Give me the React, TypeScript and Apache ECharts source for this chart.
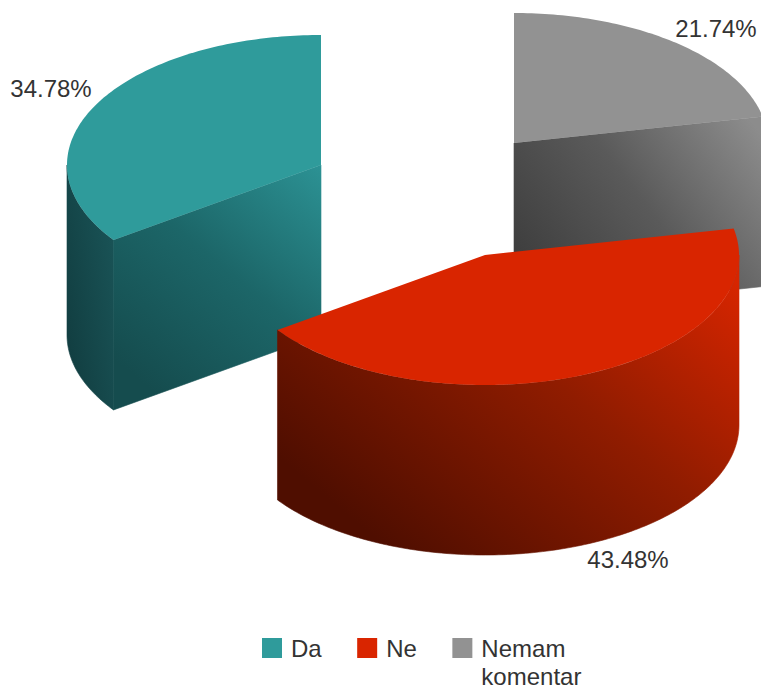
import React, { useEffect, useRef } from "react";
import * as echarts from "echarts";

const categories = ["Da", "Ne", "Nemam komentar"];
const legendLabels = ["Da", "Ne", "\nNemam\nkomentar"];
const values = [8, 10, 5];

const topColors = ["#2f9b9b", "#d92500", "#929292"];
const centers = [[321, 165], [485, 255], [514, 143]];
const labelCenters = [[51, 88], [628, 559], [716, 28]];
const drawOrder = [2, 3, 1];
const sideStops = [
  [["#2c9294", 0], ["#1c6668", 0.5], ["#154c4e", 1]],
  [["#d42500", 0], ["#8a1a00", 0.5], ["#4e0e00", 1]],
  [["#8c8c8c", 0], ["#5a5a5a", 0.5], ["#3e3e3e", 1]],
];
const outerStops = [
  [["#1a5558", 0], ["#123f42", 1]],
  [["#d62500", 0], ["#901c00", 0.45], ["#4f0e00", 1]],
  [["#777777", 0], ["#666666", 1]],
];

const RX = 254;
const RY = 130;
const DEPTH = 170;
const total = values.reduce((a, b) => a + b, 0);

function sliceRange(i: number): [number, number] {
  let end = 360;
  for (let k = 0; k < i; k++) end -= (values[k] / total) * 360;
  return [end - (values[i] / total) * 360, end];
}

function rim(c: number[], deg: number, dy = 0): number[] {
  const r = (deg * Math.PI) / 180;
  return [c[0] + RX * Math.sin(r), c[1] - RY * Math.cos(r) + dy];
}

function arc(c: number[], a0: number, a1: number, dy = 0): number[][] {
  const pts: number[][] = [];
  const n = Math.max(2, Math.ceil(Math.abs(a1 - a0)));
  for (let k = 0; k <= n; k++) pts.push(rim(c, a0 + ((a1 - a0) * k) / n, dy));
  return pts;
}

function gradient(stops: any[], x: number, y: number, x2: number, y2: number) {
  return new echarts.graphic.LinearGradient(
    x, y, x2, y2,
    stops.map(([color, offset]) => ({ color, offset }))
  );
}

function makeRender(i: number) {
  return () => {
    const [a0, a1] = sliceRange(i);
    const c = centers[i];
    const children: any[] = [];
    const lo = Math.max(a0, 90);
    const hi = Math.min(a1, 270);
    if (lo < hi) {
      const fill = gradient(outerStops[i], 1, 0.1, 0.1, 0.8);
      children.push({
        type: "polygon",
        shape: { points: [...arc(c, lo, hi), ...arc(c, hi, lo, DEPTH)] },
        style: { fill, stroke: fill, lineWidth: 0.6 },
      });
    }
    [a0, a1].forEach((edge, idx) => {
      const e = edge % 360;
      const visible = idx === 0 ? e > 180 : e > 0 && e < 180;
      if (!visible) return;
      const p = rim(c, edge);
      const fill = i === 0 ? gradient(sideStops[i], 1, 0, 0.3, 1) : gradient(sideStops[i], 1, 0.1, 0, 0.7);
      children.push({
        type: "polygon",
        shape: { points: [[c[0], c[1]], p, [p[0], p[1] + DEPTH], [c[0], c[1] + DEPTH]] },
        style: { fill, stroke: fill, lineWidth: 0.6 },
      });
    });
    children.push({
      type: "polygon",
      shape: { points: [[c[0], c[1]], ...arc(c, a0, a1)] },
      style: { fill: topColors[i] },
    });
    children.push({
      type: "text",
      style: {
        x: labelCenters[i][0],
        y: labelCenters[i][1],
        text: ((values[i] / total) * 100).toFixed(2) + "%",
        fill: "#333333",
        font: '24px "Liberation Sans"',
        align: "center",
        verticalAlign: "middle",
      },
    });
    return { type: "group", children };
  };
}

export default function App() {
  const ref = useRef<HTMLDivElement>(null);
  useEffect(() => {
    const chart = echarts.init(ref.current!, null, { renderer: "svg" });
    chart.setOption({
      animation: false,
      backgroundColor: "#ffffff",
      legend: {
        left: 257,
        top: 601,
        orient: "horizontal",
        itemGap: 35.5,
        itemWidth: 20,
        itemHeight: 20,
        icon: "rect",
        selectedMode: false,
        formatter: (name: string) => legendLabels[categories.indexOf(name)],
        textStyle: { fontFamily: "Liberation Sans", fontSize: 24, color: "#333333", lineHeight: 28, padding: [0, 0, 0, 4] },
        data: categories.map((name) => ({ name })),
      },
      series: categories.map((name, i) => ({
        type: "custom",
        name,
        coordinateSystem: "none",
        z: drawOrder[i],
        silent: true,
        itemStyle: { color: topColors[i] },
        data: [[values[i]]],
        renderItem: makeRender(i),
      })),
    });
    return () => chart.dispose();
  }, []);
  return <div ref={ref} style={{ position: "absolute", left: 0, top: 0, width: 761, height: 688 }} />;
}
